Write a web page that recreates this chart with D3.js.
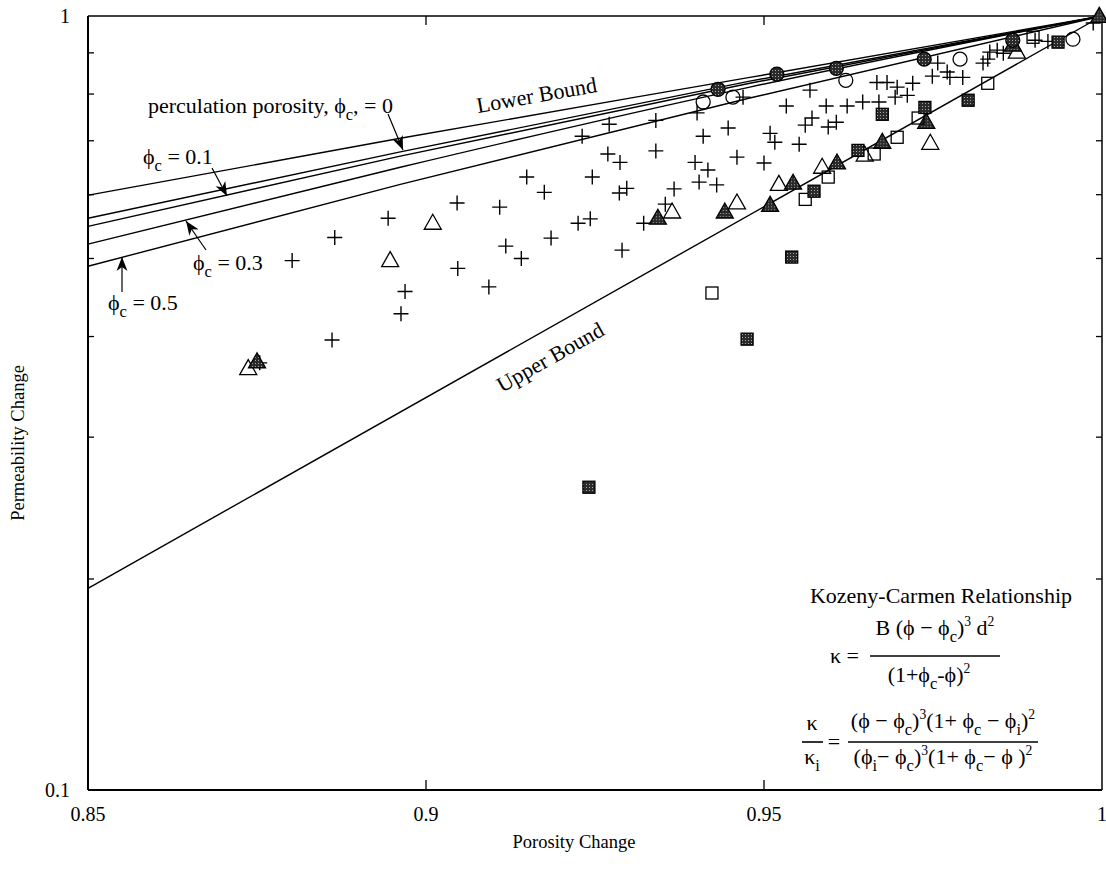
<!DOCTYPE html>
<html>
<head>
<meta charset="utf-8">
<script src="https://cdn.jsdelivr.net/npm/d3@7"></script>
<style>
  body { margin: 0; background: #fff; }
  svg { font-family: "Liberation Serif", "Times New Roman", serif; }
</style>
</head>
<body>
<svg id="chart" width="1106" height="885"></svg>
<script>
// tick values
const xTickLabels = [0.85, 0.9, 0.95, 1];
const xInnerTicks = [0.9, 0.95];
const yInnerTicks = [0.2, 0.3, 0.4, 0.5, 0.6, 0.7, 0.8, 0.9];
const yTickLabels = [1, 0.1];

// Kozeny-Carman curves, [porosity change, permeability change]
const curvePhi0  = [[0.85, 0.599], [0.8962, 0.705], [0.9479, 0.839], [1, 1]];
const curvePhi01 = [[0.85, 0.561], [0.8962, 0.678], [0.9479, 0.830], [1, 1]];
const curvePhi02 = [[0.85, 0.548], [0.8962, 0.670], [0.9479, 0.825], [1, 1]];
const curvePhi03 = [[0.85, 0.521], [0.8962, 0.649], [0.9479, 0.816], [1, 1]];
const curvePhi05 = [[0.85, 0.489], [0.8962, 0.618], [0.9479, 0.791], [1, 1]];
const upperBound = [[0.85, 0.194], [1, 1]];

// measured points
const plusPts = [
  [0.9046, 0.586], [0.8944, 0.561], [0.8865, 0.531], [0.8802, 0.497], [0.9047, 0.486],
  [0.8969, 0.455], [0.8963, 0.427], [0.8861, 0.396], [0.8754, 0.371], [0.9109, 0.579],
  [0.9149, 0.631], [0.9175, 0.604], [0.9118, 0.518], [0.9141, 0.500], [0.9185, 0.530],
  [0.9231, 0.709], [0.9271, 0.734], [0.9340, 0.742], [0.9340, 0.680], [0.9246, 0.631],
  [0.9269, 0.674], [0.9287, 0.658], [0.9225, 0.553], [0.9243, 0.560], [0.9290, 0.512],
  [0.9286, 0.603], [0.9297, 0.611], [0.9322, 0.553], [0.9367, 0.610], [0.9354, 0.584],
  [0.9401, 0.758], [0.9410, 0.709], [0.9447, 0.726], [0.9398, 0.658], [0.9417, 0.644],
  [0.9404, 0.622], [0.9430, 0.617], [0.9460, 0.668], [0.9469, 0.793], [0.9093, 0.461],
  [0.9568, 0.809], [0.9533, 0.773], [0.9592, 0.773], [0.9623, 0.773], [0.9646, 0.782],
  [0.9670, 0.782], [0.9571, 0.747], [0.9607, 0.738], [0.9595, 0.728], [0.9561, 0.732],
  [0.9509, 0.715], [0.9516, 0.697], [0.9552, 0.693], [0.9500, 0.657], [0.9667, 0.827],
  [0.9682, 0.827], [0.9697, 0.816], [0.9720, 0.825], [0.9712, 0.797], [0.9694, 0.793],
  [0.9749, 0.842], [0.9771, 0.852], [0.9775, 0.839], [0.9757, 0.874], [0.9794, 0.839],
  [0.9831, 0.884], [0.9845, 0.907], [0.9834, 0.902], [0.9854, 0.899], [0.9824, 0.874],
  [0.9901, 0.933], [0.9920, 0.930], [0.9987, 0.980]
];
const openTri = [
  [0.9010, 0.553], [0.8947, 0.497], [0.8737, 0.365], [0.9364, 0.571], [0.9460, 0.586],
  [0.9522, 0.618], [0.9586, 0.649], [0.9649, 0.672], [0.9746, 0.695], [0.9874, 0.902]
];
const filledTri = [
  [0.8750, 0.372], [0.9343, 0.561], [0.9442, 0.571], [0.9509, 0.582], [0.9543, 0.620],
  [0.9608, 0.657], [0.9675, 0.697], [0.9740, 0.738], [0.9868, 0.920], [0.9996, 0.999]
];
const openCirc = [
  [0.9410, 0.782], [0.9454, 0.793], [0.9621, 0.832], [0.9790, 0.884], [0.9957, 0.936]
];
const filledCirc = [
  [0.9432, 0.811], [0.9519, 0.847], [0.9607, 0.861], [0.9737, 0.884], [0.9868, 0.933]
];
const openSq = [
  [0.9423, 0.453], [0.9561, 0.592], [0.9595, 0.631], [0.9663, 0.674], [0.9697, 0.707],
  [0.9728, 0.747], [0.9831, 0.825], [0.9898, 0.941]
];
const filledSq = [
  [0.9241, 0.260], [0.9475, 0.397], [0.9541, 0.502], [0.9574, 0.606], [0.9639, 0.681],
  [0.9675, 0.755], [0.9738, 0.770], [0.9802, 0.786], [0.9935, 0.928]
];

const svg = d3.select('#chart');
const plotL = 88, plotR = 1102, plotT = 16, plotB = 790;

const x = d3.scaleLinear().domain([0.85, 1]).range([plotL, plotR]);
// the scanned axis is not quite uniform below 0.2
const y = d3.scaleLog().domain([1, 0.2, 0.1]).range([plotT, 579, plotB]);

const defs = svg.append('defs');
const stip = defs.append('pattern').attr('id', 'stip')
  .attr('width', 3).attr('height', 3).attr('patternUnits', 'userSpaceOnUse');
stip.append('rect').attr('width', 3).attr('height', 3).attr('fill', '#2a2a2a');
stip.append('rect').attr('x', 1).attr('y', 1).attr('width', 1).attr('height', 1).attr('fill', '#aaa');

defs.append('marker').attr('id', 'head')
  .attr('viewBox', '-14 -6 16 12').attr('refX', 0).attr('refY', 0)
  .attr('markerWidth', 16).attr('markerHeight', 12)
  .attr('markerUnits', 'userSpaceOnUse').attr('orient', 'auto')
  .append('path').attr('d', 'M0,0L-14,-5.5L-10,0L-14,5.5Z').attr('fill', '#000');

// frame
svg.append('line').attr('x1', plotL).attr('x2', plotR).attr('y1', plotT).attr('y2', plotT)
  .attr('stroke', '#000').attr('stroke-width', 1.5);
svg.append('line').attr('x1', plotR).attr('x2', plotR).attr('y1', plotT).attr('y2', plotB)
  .attr('stroke', '#000').attr('stroke-width', 1.5);
svg.append('line').attr('x1', plotL).attr('x2', plotL).attr('y1', plotT).attr('y2', plotB)
  .attr('stroke', '#000').attr('stroke-width', 2);
svg.append('line').attr('x1', plotL).attr('x2', plotR).attr('y1', plotB).attr('y2', plotB)
  .attr('stroke', '#000').attr('stroke-width', 2);

// inward ticks
const ticks = svg.append('g').attr('stroke', '#000').attr('stroke-width', 1.3);
yInnerTicks.forEach(v => {
  ticks.append('line').attr('x1', plotL).attr('x2', plotL + 6).attr('y1', y(v)).attr('y2', y(v));
  ticks.append('line').attr('x1', plotR).attr('x2', plotR - 6).attr('y1', y(v)).attr('y2', y(v));
});
xInnerTicks.forEach(v => {
  ticks.append('line').attr('x1', x(v)).attr('x2', x(v)).attr('y1', plotB).attr('y2', plotB - 10);
  ticks.append('line').attr('x1', x(v)).attr('x2', x(v)).attr('y1', plotT).attr('y2', plotT + 9);
});

// tick labels
svg.selectAll('.xlab').data(xTickLabels).enter().append('text')
  .attr('class', 'xlab')
  .attr('x', d => x(d)).attr('y', plotB + 31)
  .attr('text-anchor', 'middle').attr('font-size', 20)
  .text(d => d3.format('')(d));

svg.selectAll('.ylab').data(yTickLabels).enter().append('text')
  .attr('class', 'ylab')
  .attr('x', 70).attr('y', d => y(d) + 7)
  .attr('text-anchor', 'end').attr('font-size', 20)
  .text(d => d3.format('')(d));

svg.append('text').attr('x', 574).attr('y', 848).attr('text-anchor', 'middle')
  .attr('font-size', 18.5).text('Porosity Change');
svg.append('text').attr('transform', 'translate(24,443) rotate(-90)')
  .attr('text-anchor', 'middle').attr('font-size', 18.5).text('Permeability Change');

// curves
const line = d3.line().x(d => x(d[0])).y(d => y(d[1])).curve(d3.curveMonotoneX);
const curves = [curvePhi0, curvePhi01, curvePhi02, curvePhi03, curvePhi05, upperBound];
svg.append('g').selectAll('path').data(curves).enter().append('path')
  .attr('d', line).attr('fill', 'none').attr('stroke', '#000').attr('stroke-width', 1.4);

// markers
const pts = svg.append('g');
pts.selectAll('.plus').data(plusPts).enter().append('path')
  .attr('class', 'plus')
  .attr('transform', d => `translate(${x(d[0])},${y(d[1])})`)
  .attr('d', 'M-7.5,0H7.5M0,-7.5V7.5')
  .attr('stroke', '#000').attr('stroke-width', 1.4).attr('fill', 'none');

const triPath = 'M0,-9L8.5,6L-8.5,6Z';
pts.selectAll('.otri').data(openTri).enter().append('path')
  .attr('class', 'otri')
  .attr('transform', d => `translate(${x(d[0])},${y(d[1])})`)
  .attr('d', triPath).attr('fill', 'none').attr('stroke', '#000').attr('stroke-width', 1.3);
pts.selectAll('.ftri').data(filledTri).enter().append('path')
  .attr('class', 'ftri')
  .attr('transform', d => `translate(${x(d[0])},${y(d[1])})`)
  .attr('d', triPath).attr('fill', 'url(#stip)').attr('stroke', '#000').attr('stroke-width', 1.3);

pts.selectAll('.ocirc').data(openCirc).enter().append('circle')
  .attr('class', 'ocirc')
  .attr('cx', d => x(d[0])).attr('cy', d => y(d[1])).attr('r', 7)
  .attr('fill', 'none').attr('stroke', '#000').attr('stroke-width', 1.3);
pts.selectAll('.fcirc').data(filledCirc).enter().append('circle')
  .attr('class', 'fcirc')
  .attr('cx', d => x(d[0])).attr('cy', d => y(d[1])).attr('r', 7)
  .attr('fill', 'url(#stip)').attr('stroke', '#000').attr('stroke-width', 1.3);

pts.selectAll('.osq').data(openSq).enter().append('rect')
  .attr('class', 'osq')
  .attr('x', d => x(d[0]) - 6).attr('y', d => y(d[1]) - 6)
  .attr('width', 12).attr('height', 12)
  .attr('fill', 'none').attr('stroke', '#000').attr('stroke-width', 1.3);
pts.selectAll('.fsq').data(filledSq).enter().append('rect')
  .attr('class', 'fsq')
  .attr('x', d => x(d[0]) - 6).attr('y', d => y(d[1]) - 6)
  .attr('width', 12).attr('height', 12)
  .attr('fill', 'url(#stip)').attr('stroke', '#000').attr('stroke-width', 1.3);

// rich text with sub/superscripts
function rich(g, px, py, parts, size, anchor) {
  const t = g.append('text').attr('x', px).attr('y', py)
    .attr('font-size', size).attr('text-anchor', anchor || 'start');
  let cur = 0;
  parts.forEach(p => {
    let txt, off = 0, fs = size;
    if (typeof p === 'string') txt = p;
    else if (p.sub != null) { txt = p.sub; off = size * 0.3; fs = size * 0.75; }
    else { txt = p.sup; off = -size * 0.42; fs = size * 0.62; }
    t.append('tspan').attr('dy', off - cur).attr('font-size', fs).text(txt);
    cur = off;
  });
  return t;
}

const ann = svg.append('g');
const phi = 'ϕ';
rich(ann, 148, 113, ['perculation porosity, ' + phi, { sub: 'c' }, ', = 0'], 22);
rich(ann, 143, 164, [phi, { sub: 'c' }, ' = 0.1'], 22);
rich(ann, 193, 270, [phi, { sub: 'c' }, ' = 0.3'], 22);
rich(ann, 108, 310, [phi, { sub: 'c' }, ' = 0.5'], 22);

ann.append('text').attr('transform', 'translate(478,113) rotate(-10)')
  .attr('font-size', 22).text('Lower Bound');
ann.append('text').attr('transform', 'translate(502,393) rotate(-29.5)')
  .attr('font-size', 22).text('Upper Bound');

// arrows
const arrows = [
  [388, 114, 403, 150],
  [212, 168, 227, 196],
  [206, 250, 186, 221],
  [122, 292, 122, 257]
];
ann.selectAll('.arrow').data(arrows).enter().append('line')
  .attr('class', 'arrow')
  .attr('x1', d => d[0]).attr('y1', d => d[1]).attr('x2', d => d[2]).attr('y2', d => d[3])
  .attr('stroke', '#000').attr('stroke-width', 1.2).attr('marker-end', 'url(#head)');

// Kozeny-Carmen box
ann.append('text').attr('x', 941).attr('y', 603).attr('text-anchor', 'middle')
  .attr('font-size', 22).text('Kozeny-Carmen Relationship');

rich(ann, 830, 663, ['κ ='], 22);
rich(ann, 935, 635, ['B (' + phi + ' − ' + phi, { sub: 'c' }, ')', { sup: '3' }, ' d', { sup: '2' }], 22, 'middle');
ann.append('line').attr('x1', 870).attr('x2', 1000).attr('y1', 656).attr('y2', 656)
  .attr('stroke', '#000').attr('stroke-width', 1.6);
rich(ann, 929, 682, ['(1+' + phi, { sub: 'c' }, '-' + phi + ')', { sup: '2' }], 22, 'middle');

rich(ann, 812, 730, ['κ'], 22, 'middle');
ann.append('line').attr('x1', 802).attr('x2', 823).attr('y1', 742).attr('y2', 742)
  .attr('stroke', '#000').attr('stroke-width', 1.6);
rich(ann, 812, 764, ['κ', { sub: 'i' }], 22, 'middle');
rich(ann, 834, 749, ['='], 22, 'middle');
rich(ann, 943, 728, ['(' + phi + ' − ' + phi, { sub: 'c' }, ')', { sup: '3' }, '(1+ ' + phi, { sub: 'c' }, ' − ' + phi, { sub: 'i' }, ')', { sup: '2' }], 22, 'middle');
ann.append('line').attr('x1', 848).attr('x2', 1038).attr('y1', 742).attr('y2', 742)
  .attr('stroke', '#000').attr('stroke-width', 1.6);
rich(ann, 943, 764, ['(' + phi, { sub: 'i' }, '− ' + phi, { sub: 'c' }, ')', { sup: '3' }, '(1+ ' + phi, { sub: 'c' }, '− ' + phi + ' )', { sup: '2' }], 22, 'middle');
</script>
</body>
</html>
